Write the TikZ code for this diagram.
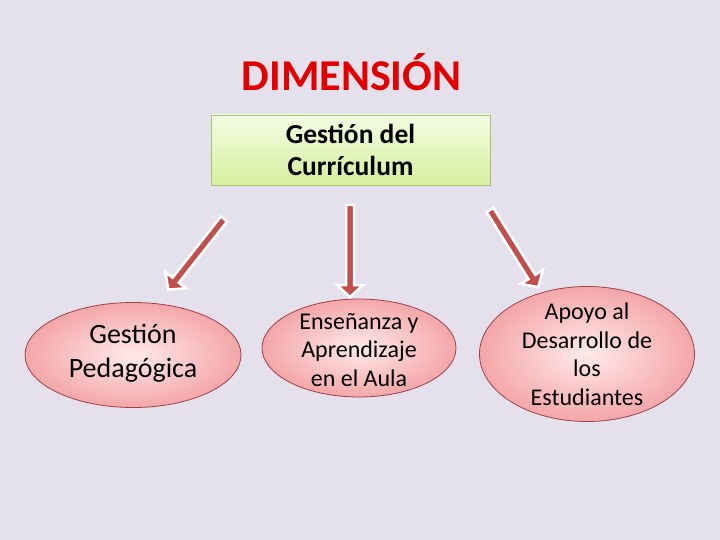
\documentclass[tikz,border=0pt]{standalone}
\usepackage{fontspec}
\setmainfont{Carlito}
\usetikzlibrary{shapes.geometric}
\definecolor{bgc}{HTML}{E4E0EC}
\definecolor{titlered}{HTML}{E00000}
\definecolor{arrowred}{HTML}{C0504D}
\definecolor{ellborder}{HTML}{A0404A}
\definecolor{pinkin}{HTML}{FFEAEA}
\definecolor{pinkout}{HTML}{F4A6A8}
\definecolor{greentop}{HTML}{F4FCE2}
\definecolor{greenbot}{HTML}{D6EFA0}
\definecolor{greenborder}{HTML}{A8C070}
\tikzset{
  oval/.style={ellipse, draw=ellborder, line width=0.8pt, inner color=pinkin, outer color=pinkout, inner sep=0pt},
  ovaltext/.style={align=center, inner sep=0pt},
  fatarrow/.style={draw=white, line width=2.5pt, fill=arrowred, line join=miter},
}
\newcommand{\fatarr}[3]{%
  \begin{scope}[shift={(#1)}, rotate=#2]
    \filldraw[fatarrow] (0,-4) -- (#3-12,-4) -- (#3-12,-13) -- (#3,0) -- (#3-12,13) -- (#3-12,4) -- (0,4) -- cycle;
  \end{scope}}
\begin{document}
\begin{tikzpicture}[x=1pt,y=-1pt]
\fill[bgc] (0,0) rectangle (720,540);
\useasboundingbox (0,0) rectangle (720,540);
\node[text=titlered, font=\bfseries\fontsize{44}{50}\selectfont] (title) at (351.5,72) {DIMENSIÓN};
\node[draw=greenborder, line width=0.6pt, top color=greentop, bottom color=greenbot, minimum width=279pt, minimum height=70pt, inner sep=0pt] (box) at (350.5,150) {};
\node[align=center, font=\fontsize{27.5}{32}\selectfont\bfseries] (boxt) at (box.center) {Gestión del\\Currículum};
\node[oval, minimum width=216pt, minimum height=105pt] (e1) at (133,355) {};
\node[ovaltext, font=\fontsize{28}{34}\selectfont] (t1) at (133,353) {Gestión\\Pedagógica};
\node[oval, minimum width=194pt, minimum height=98pt] (e2) at (359,348) {};
\node[ovaltext, font=\fontsize{24}{28.5}\selectfont] (t2) at (359,350) {Enseñanza y\\Aprendizaje\\en el Aula};
\node[oval, minimum width=215pt, minimum height=135pt] (e3) at (587,354) {};
\node[ovaltext, font=\fontsize{24}{28.5}\selectfont] (t3) at (587,354.5) {Apoyo al\\Desarrollo de\\los\\Estudiantes};
\coordinate (a1) at (224,219);
\coordinate (a2) at (350,205);
\coordinate (a3) at (490,210);
\fatarr{a1}{231.7}{90}
\fatarr{a2}{270}{92}
\fatarr{a3}{-58}{91}
\end{tikzpicture}
\end{document}
